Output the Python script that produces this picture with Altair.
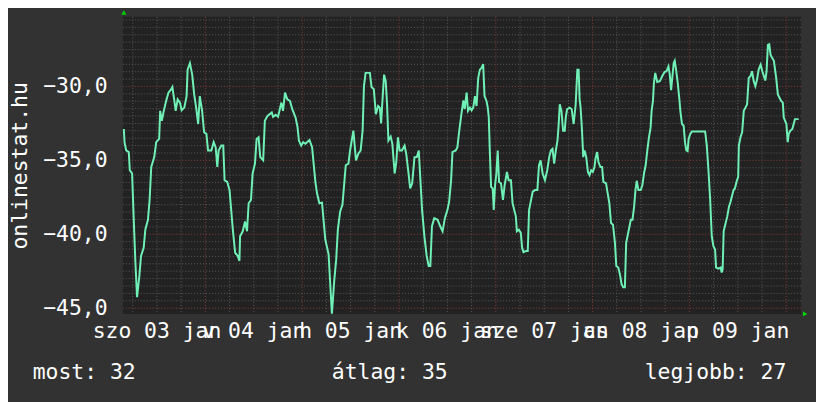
import altair as alt
import pandas as pd

# ---- data (hours since sat 03 jan 00:00, value) ----
hours = [
    3.78, 3.95, 4.36, 5.01, 5.26, 5.83, 6.24, 6.65, 7.06, 7.63, 8.04, 8.70, 9.11, 9.76, 10.17, 10.58,
    11.32, 11.81, 12.54, 12.79, 13.20, 13.69, 14.26, 14.84, 15.49, 15.82, 16.31, 16.64, 17.13, 17.70,
    18.11, 18.77, 19.34, 19.59, 20.16, 20.73, 21.22, 21.71, 22.21, 22.62, 23.19, 23.68, 24.25, 24.66,
    25.48, 26.05, 26.55, 26.95, 27.28, 27.94, 28.43, 28.76, 29.41, 29.99, 30.80, 31.38, 32.03,
    32.44, 32.60, 33.26, 33.83, 34.32, 34.73, 35.30, 35.71, 36.29, 36.70, 37.19, 37.60, 38.33, 38.74,
    39.40, 40.46, 40.79, 41.44, 42.02, 42.84, 43.25, 43.74, 44.31, 44.97, 45.54, 46.36, 46.85, 47.18,
    47.75, 48.24, 48.81, 49.80, 50.45, 51.27, 51.68, 52.25, 52.91, 53.73, 54.55, 54.95, 55.36, 55.94,
    56.43, 56.84, 57.41, 57.98, 58.80, 59.46,
    59.87, 60.69, 61.34, 61.92, 62.49, 62.98, 63.31, 63.72, 64.78, 65.19, 65.76, 66.26, 66.83, 67.24,
    67.57, 67.89, 68.30, 68.71, 69.04, 69.37, 69.94, 70.35, 70.92, 71.33, 71.74, 72.15, 72.72, 73.38,
    73.79, 74.28, 74.77, 75.26, 75.84, 76.41, 76.90, 77.31, 77.72, 78.29, 78.86, 79.36, 79.77, 80.17,
    80.75, 81.57, 82.22, 82.80, 83.37, 84.02, 84.43, 84.92, 85.25, 86.07, 86.48, 86.89, 87.46,
    87.96, 88.28, 88.77, 89.10, 89.59, 90.00, 90.41, 90.82, 91.23, 91.64, 92.05, 92.46, 92.87, 93.20,
    93.69, 94.01, 94.26, 94.51, 94.83, 95.24, 95.49, 95.82, 96.14, 96.47, 96.80, 97.29, 97.78, 98.19,
    98.76, 99.17, 99.75, 100.16, 100.56, 100.97, 101.22, 101.71, 102.20, 102.53, 102.86, 103.51, 103.92,
    104.25, 104.66, 105.15, 105.72, 106.30, 106.71, 107.11, 107.61, 108.18, 108.75, 109.24, 109.65,
    110.06, 110.47, 110.88, 111.29, 111.54, 111.86, 112.27, 112.68, 113.09, 113.34, 113.67, 114.32,
    114.81, 115.30,
    115.80, 116.21, 116.53, 116.78, 117.02, 117.35, 117.68, 118.01, 118.42, 118.83, 119.23, 119.64,
    120.05, 120.46, 120.71, 121.12, 121.45, 121.94, 122.35, 122.67, 123.33, 123.74, 124.15, 124.56,
    125.05, 125.54, 125.87, 126.36, 126.77, 127.18, 127.59, 128.00, 128.32, 128.65, 129.06, 129.47,
    129.88, 130.29, 130.62, 130.94, 131.35, 131.93, 132.34, 132.74, 133.15, 133.56, 133.97, 134.38,
    134.63, 134.96, 135.20, 135.53, 136.02, 136.67, 137.25, 137.82, 138.31, 138.80, 139.13, 139.46,
    139.79, 140.11, 140.36, 140.69, 141.10, 141.51, 141.75, 142.16, 142.57, 142.90, 143.23, 143.55,
    143.80, 144.21,
    144.62, 147.90, 148.31, 148.72, 149.13, 149.54, 149.95, 150.36, 150.61, 151.18, 151.75, 152.00,
    152.24, 152.49, 152.98, 153.39, 153.80, 154.21, 154.62, 154.95, 155.27, 155.68, 156.09, 156.26,
    156.66, 157.07, 157.48, 157.89, 158.30, 158.71, 159.12, 159.53, 159.94, 160.35, 160.76, 161.17,
    161.66, 162.07, 162.48, 162.81, 163.13, 163.46, 163.79, 164.12, 164.53, 164.94, 165.51, 165.92,
    166.33, 166.74, 167.15, 167.39, 167.72, 168.05, 168.37, 168.62, 169.03, 169.52, 169.85, 170.17,
    170.67, 171.08,
]
values = [
    -32.88, -33.77, -34.33, -34.44, -35.67, -35.89, -39.02, -41.92, -44.26, -42.81, -41.47, -40.92,
    -39.69, -39.02, -37.68, -35.45, -34.78, -33.77, -33.55, -31.65, -32.32, -31.65, -30.98, -30.42,
    -30.20, -30.04, -30.98, -31.65, -30.87, -31.09, -31.61, -31.43, -30.65, -28.86, -28.42, -29.20,
    -30.54, -31.43, -32.54, -30.65, -31.65, -33.10, -33.21, -34.33, -34.33, -33.77, -34.11, -35.45,
    -34.33, -34.00, -34.00, -36.34, -36.45, -37.01, -39.69, -41.25, -41.47,
    -41.81, -40.13, -39.80, -39.13, -39.80, -37.90, -37.68, -35.89, -35.22, -33.55, -33.44, -34.78,
    -35.00, -32.32, -31.99, -31.76, -32.05, -31.92, -32.05, -31.09, -31.65, -30.42, -30.87, -30.98,
    -31.54, -32.10, -32.77, -33.66, -34.00, -33.77, -33.88, -33.62, -34.11, -36.45, -37.23, -37.90,
    -37.86, -40.36, -41.36, -43.37, -45.38, -43.15, -41.70, -39.69, -38.46, -38.01, -35.33, -35.22,
    -34.33, -32.99, -35.00, -34.55, -34.33, -32.99, -29.98, -29.08, -29.08, -30.04, -30.20, -31.88,
    -31.32, -31.43, -32.50, -30.98, -29.20, -29.64, -31.21, -33.66, -33.39, -33.88, -35.89, -35.11,
    -33.44, -34.33, -34.33, -34.00, -34.55, -35.67, -36.90, -36.56, -34.78, -34.78, -34.33, -36.34,
    -38.35, -40.13, -41.47, -42.14, -42.14, -39.46, -38.91, -39.02, -39.46, -39.80, -38.91, -38.35,
    -37.79, -36.34, -34.44, -34.33, -34.11, -33.10, -31.88,
    -30.94, -31.54, -30.42, -31.65, -31.43, -31.61, -31.43, -30.65, -31.32, -29.42, -28.86, -28.75,
    -28.48, -30.65, -30.98, -31.43, -32.10, -34.33, -36.79, -36.90, -38.35, -36.67, -35.89, -34.33,
    -36.45, -36.56, -37.68, -36.67, -35.78, -36.34, -36.34, -37.90, -38.35, -38.79, -39.80, -39.69,
    -39.91, -40.92, -41.21, -41.14, -41.14, -38.35, -37.79, -37.12, -37.01, -37.01, -35.33, -35.00,
    -35.89, -36.34, -35.67, -34.78, -34.33, -34.22, -35.22, -34.33, -33.66, -32.77, -31.21, -31.65,
    -32.99, -32.99, -32.10, -31.54, -31.43, -31.54, -32.54,
    -31.21, -28.86, -28.86, -30.87, -31.43, -32.88, -34.78, -34.33, -34.78, -35.78, -36.00, -35.67,
    -35.78, -35.45, -34.89, -34.44, -35.11, -35.45, -35.45, -36.45, -36.56, -37.23, -37.90, -39.24,
    -39.35, -40.58, -42.14, -42.25, -42.70, -43.37, -43.59, -43.59, -40.58, -40.13, -39.58, -39.02,
    -39.02, -38.13, -37.01, -36.38, -37.01, -37.01, -36.67, -35.89, -35.33, -34.33, -33.44, -32.77,
    -31.65, -30.98, -29.75, -29.08, -29.69, -29.64, -29.31, -29.02, -28.97, -28.64, -29.20, -30.25,
    -29.31, -28.42, -28.26, -28.86, -29.75, -30.87, -31.65, -32.54, -32.66, -33.77, -34.33, -34.38,
    -33.55, -33.21,
    -33.04, -33.04, -34.00, -35.67, -37.57, -40.13, -40.80, -41.03, -42.25, -42.32, -42.25, -42.59,
    -42.37, -39.80, -39.24, -38.79, -38.13, -37.79, -37.34, -37.01, -36.90, -36.45, -36.12, -34.00,
    -33.44, -33.10, -31.65, -31.43, -31.21, -29.42, -29.31, -28.97, -29.64, -29.98, -29.53, -28.86,
    -28.53, -28.97, -29.31, -29.60, -28.97, -27.19, -27.14, -27.86, -28.08, -28.26, -29.42, -30.54,
    -30.76, -30.98, -31.09, -32.10, -32.32, -32.54, -33.77, -33.21, -32.99, -32.88, -32.54, -32.21,
    -32.21, -32.21,
]

day_noon_hours = [12, 36, 60, 84, 108, 132, 156]
day_labels = ["szo 03 jan", "v 04 jan", "h 05 jan", "k 06 jan", "sze 07 jan", "cs 08 jan", "p 09 jan"]

y_ticks = [-45, -40, -35, -30]
legend_names = ["most", "átlag", "legjobb"]
legend_values = [32, 35, 27]

# grid positions
major_hours = list(range(24, 172, 24))
minor_hours = [h for h in range(6, 172, 6) if h % 24 != 0]
major_vals = y_ticks
minor_vals = [v / 2 for v in range(-90, -50) if v % 10 != 0]

FONT = "DejaVu Sans Mono"
FS = 21.6
W, H = 685, 300

xscale = alt.Scale(domain=[3.54, 171.7], nice=False, zero=False)
yscale = alt.Scale(domain=[-45.39, -25.29], nice=False, zero=False)
yaxis = alt.Axis(
    values=y_ticks,
    labelExpr="replace(format(datum.value, '.1f'), '.', ',')",
    labelFont=FONT, labelFontSize=FS, labelColor="#ffffff", labelPadding=16,
    ticks=False, domain=False, grid=False,
    title="onlinestat.hu", titleFont=FONT, titleFontSize=FS, titleFontWeight="normal",
    titleColor="#ffffff", titleAngle=270, titleX=-97, titleY=150,
    titleAlign="center", titleBaseline="alphabetic",
)

X = alt.X("h:Q", scale=xscale, axis=None)
Y = alt.Y("v:Q", scale=yscale, axis=yaxis)

line_df = pd.DataFrame({"h": hours, "v": values})

minor_v = alt.Chart(pd.DataFrame({"h": minor_hours})).mark_rule(
    color="#5a5a5a", strokeDash=[1, 2], strokeWidth=1).encode(x=X)
minor_h = alt.Chart(pd.DataFrame({"v": minor_vals})).mark_rule(
    color="#5a5a5a", strokeDash=[1, 2], strokeWidth=1).encode(y=Y)
major_v = alt.Chart(pd.DataFrame({"h": major_hours})).mark_rule(
    color="#8a3c3c", strokeDash=[1, 2], strokeWidth=1).encode(x=X)
major_h = alt.Chart(pd.DataFrame({"v": major_vals})).mark_rule(
    color="#8a3c3c", strokeDash=[1, 2], strokeWidth=1).encode(y=Y)

line = alt.Chart(line_df).mark_line(color="#6ff0b6", strokeWidth=2).encode(x=X, y=Y)

xlabels = alt.Chart(pd.DataFrame({"h": day_noon_hours, "t": day_labels})).mark_text(
    font=FONT, fontSize=FS, color="#ffffff", align="center", baseline="alphabetic"
).encode(x=X, y=alt.value(324), text="t:N")

legend_df = pd.DataFrame({
    "t": [f"{n}: {v}" for n, v in zip(legend_names, legend_values)],
    "px": [-91, 211, 527],
})
legend = alt.Chart(legend_df).mark_text(
    font=FONT, fontSize=FS, color="#ffffff", align="left", baseline="alphabetic"
).encode(x=alt.X("px:Q", scale=None), y=alt.value(366), text="t:N")

arrow_up = alt.Chart(pd.DataFrame({"a": [0]})).mark_point(
    shape="triangle-up", filled=True, color="#00d000", size=28, opacity=1
).encode(x=alt.value(1), y=alt.value(-4.5))
arrow_right = alt.Chart(pd.DataFrame({"a": [0]})).mark_point(
    shape="triangle-right", filled=True, color="#00d000", size=28, opacity=1
).encode(x=alt.value(689), y=alt.value(300))

chart = alt.layer(
    minor_v, minor_h, major_v, major_h, line, xlabels, legend, arrow_up, arrow_right
).properties(
    width=W, height=H,
    padding={"left": 116, "top": 7, "right": 15, "bottom": 87},
    autosize=alt.AutoSizeParams(type="none"),
).configure(background="#323232").configure_view(fill="#222222", stroke=None)

chart.save("out.html", embed_options={"renderer": "svg", "actions": False})
